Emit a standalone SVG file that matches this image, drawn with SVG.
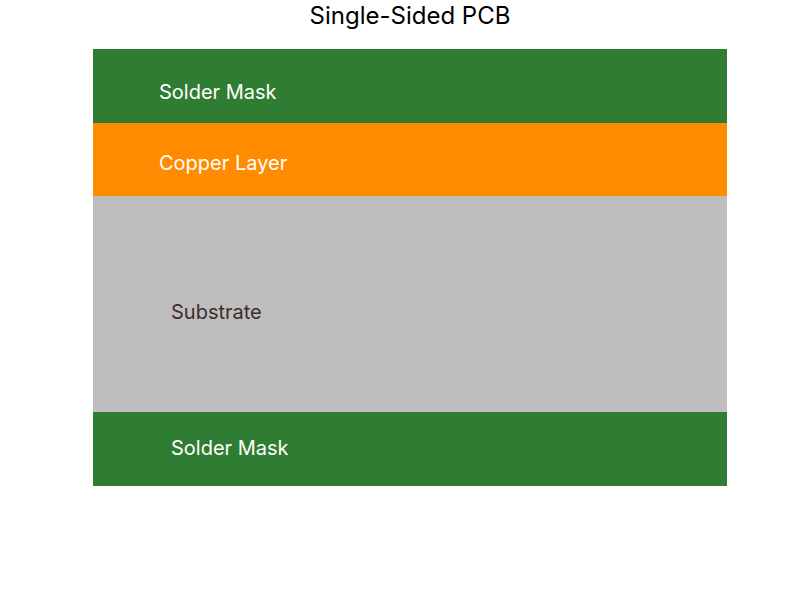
<svg xmlns="http://www.w3.org/2000/svg" width="800" height="600" viewBox="0 0 800 600">
<style>
text{font-family:Inter,"Noto Sans",sans-serif;}
.lbl{font-size:20px;fill:#ffffff;}
.dark{fill:#3e2c2c;}
.title{font-size:24px;fill:#000000;text-anchor:middle;}
</style>
<rect width="800" height="600" fill="#ffffff"/>
<text class="title" x="410" y="23.5">Single-Sided PCB</text>
<g id="solder-mask-top"><rect x="93" y="49" width="634" height="74" fill="#2e7d32"/><text class="lbl" x="159" y="99">Solder Mask</text></g>
<g id="copper-layer"><rect x="93" y="123" width="634" height="73" fill="#ff8c00"/><text class="lbl" x="159" y="170">Copper Layer</text></g>
<g id="substrate"><rect x="93" y="196" width="634" height="216" fill="#bebebe"/><text class="lbl dark" x="171" y="319">Substrate</text></g>
<g id="solder-mask-bottom"><rect x="93" y="412" width="634" height="74" fill="#2e7d32"/><text class="lbl" x="171" y="455">Solder Mask</text></g>
</svg>
